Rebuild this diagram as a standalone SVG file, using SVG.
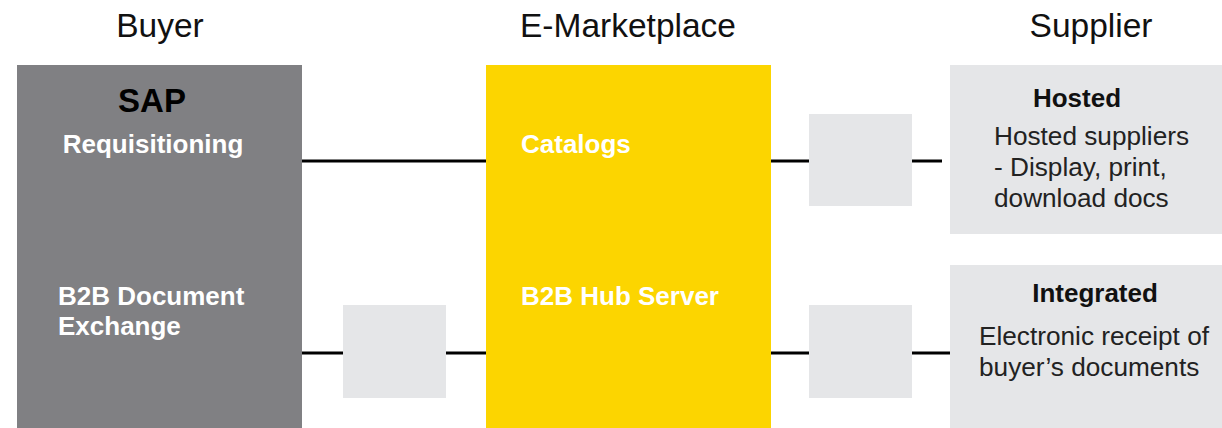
<svg xmlns="http://www.w3.org/2000/svg" width="1222" height="428" viewBox="0 0 1222 428">
<style>
.hdr{font-family:"Liberation Sans",Arial,sans-serif;font-size:33.5px;fill:#111;text-anchor:middle}
.wb{font-family:"Liberation Sans",Arial,sans-serif;font-size:26px;font-weight:bold;fill:#fff}
.bb{font-family:"Liberation Sans",Arial,sans-serif;font-size:26px;font-weight:bold;fill:#111}
.tx{font-family:"Liberation Sans",Arial,sans-serif;font-size:26.2px;fill:#222}
.conn{stroke:#000;stroke-width:3;fill:none}
.small{fill:#e5e6e8}
</style>
<rect width="1222" height="428" fill="#fff"/>
<text class="hdr" x="160" y="37">Buyer</text>
<text class="hdr" x="628" y="37">E-Marketplace</text>
<text class="hdr" x="1091" y="37">Supplier</text>
<g id="connectors">
<line class="conn" x1="302" y1="161" x2="486" y2="161"/>
<line class="conn" x1="771" y1="161" x2="809" y2="161"/>
<line class="conn" x1="912" y1="161" x2="942" y2="161"/>
<line class="conn" x1="302" y1="353" x2="343" y2="353"/>
<line class="conn" x1="446" y1="353" x2="486" y2="353"/>
<line class="conn" x1="771" y1="353" x2="809" y2="353"/>
<line class="conn" x1="912" y1="353" x2="950" y2="353"/>
</g>
<g id="buyer">
<rect x="17" y="65" width="285" height="363" fill="#808083"/>
<text x="152" y="112" text-anchor="middle" style="font-family:'Liberation Sans',Arial,sans-serif;font-size:33px;font-weight:bold;fill:#000">SAP</text>
<text class="wb" x="153" y="153" text-anchor="middle">Requisitioning</text>
<text class="wb" x="58" y="305">B2B Document</text>
<text class="wb" x="58" y="335">Exchange</text>
</g>
<g id="marketplace">
<rect x="486" y="65" width="285" height="363" fill="#fcd500"/>
<text class="wb" x="521" y="153">Catalogs</text>
<text class="wb" x="521" y="305">B2B Hub Server</text>
</g>
<g id="gw-buyer"><rect class="small" x="343" y="305" width="103" height="93"/></g>
<g id="gw-hosted"><rect class="small" x="809" y="114" width="103" height="92"/></g>
<g id="gw-integrated"><rect class="small" x="809" y="305" width="103" height="93"/></g>
<g id="hosted">
<rect x="950" y="65" width="272" height="169" fill="#e5e6e8"/>
<text class="bb" x="1077" y="107" text-anchor="middle">Hosted</text>
<text class="tx" x="994" y="145">Hosted suppliers</text>
<text class="tx" x="994" y="176">- Display, print,</text>
<text class="tx" x="994" y="207">download docs</text>
</g>
<g id="integrated">
<rect x="950" y="265" width="272" height="163" fill="#e5e6e8"/>
<text class="bb" x="1095" y="302" text-anchor="middle">Integrated</text>
<text class="tx" x="979" y="345">Electronic receipt of</text>
<text class="tx" x="979" y="376">buyer’s documents</text>
</g>
</svg>
